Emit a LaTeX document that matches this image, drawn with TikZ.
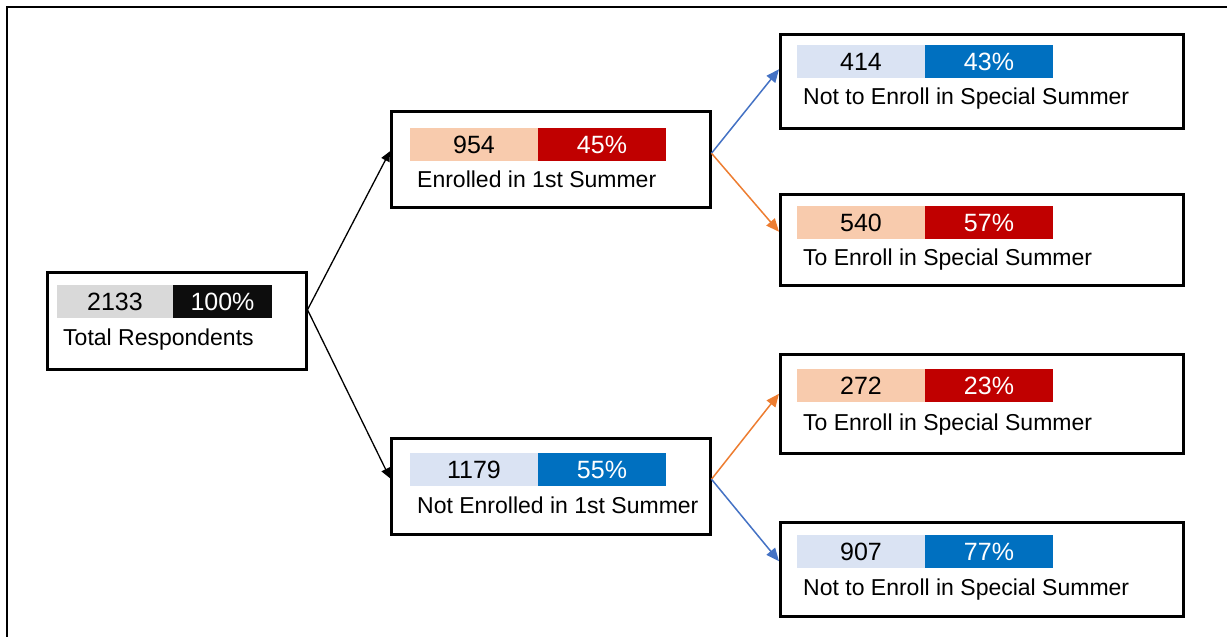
\documentclass[tikz,border=0pt]{standalone}
\usepackage{fontspec}
\setmainfont{Liberation Sans}
\usepackage{xcolor}
\usepackage{tikz}
\usetikzlibrary{positioning,arrows.meta}

\definecolor{cellgray}{HTML}{D9D9D9}
\definecolor{cellblack}{HTML}{0D0D0D}
\definecolor{cellpeach}{HTML}{F8CBAD}
\definecolor{cellred}{HTML}{C00000}
\definecolor{cellpale}{HTML}{DAE3F3}
\definecolor{cellblue}{HTML}{0070C0}
\definecolor{linkblue}{HTML}{4472C4}
\definecolor{linkorange}{HTML}{ED7D31}

\begin{document}
\begin{tikzpicture}[x=1pt, y=-1pt,
  box/.style={draw, rectangle, line width=2.5pt, anchor=north west, inner sep=0pt, minimum width=403pt, minimum height=94pt},
  cell/.style={rectangle, inner sep=0pt, outer sep=0pt, minimum width=128pt, minimum height=33pt, font=\fontsize{25}{30}\selectfont},
  numcell/.style={cell, fill=#1, text=black},
  pctcell/.style={cell, fill=#1, text=white},
  caption/.style={inner sep=0pt, font=\fontsize{23}{28}\selectfont},
  link/.style={-{Triangle[length=10pt,width=9pt]}, line width=1.3pt},
  blink/.style={-{Triangle[length=13pt,width=11pt]}, line width=1.5pt, linkblue},
  olink/.style={-{Triangle[length=13pt,width=11pt]}, line width=1.5pt, linkorange}]

\useasboundingbox (0,0) rectangle (1227,637);
\draw[line width=2pt] (1227,7) -- (7,7) -- (7,637);

% root
\node [box, minimum width=259pt, minimum height=97pt] (tot) at (46,271) {};
\node [numcell=cellgray, minimum width=116pt, below right=14pt and 11pt of tot.north west] (tot-n) {2133};
\node [pctcell=cellblack, minimum width=99pt, right=0pt of tot-n] (tot-p) {100\%};
\node [caption, below right=11pt and 6pt of tot-n.south west] (tot-t) {Total Respondents};

% first summer
\node [box, minimum width=319pt, minimum height=96pt] (enr) at (390,110) {};
\node [numcell=cellpeach, below right=18pt and 20pt of enr.north west] (enr-n) {954};
\node [pctcell=cellred, right=0pt of enr-n] (enr-p) {45\%};
\node [caption, below right=10pt and 7pt of enr-n.south west] (enr-t) {Enrolled in 1st Summer};

\node [box, minimum width=319pt, minimum height=96pt] (nen) at (390,437) {};
\node [numcell=cellpale, below right=16pt and 20pt of nen.north west] (nen-n) {1179};
\node [pctcell=cellblue, right=0pt of nen-n] (nen-p) {55\%};
\node [caption, below right=11pt and 7pt of nen-n.south west] (nen-t) {Not Enrolled in 1st Summer};

% special summer
\node [box] (sp1) at (779,33) {};
\node [numcell=cellpale, below right=12pt and 18pt of sp1.north west] (sp1-n) {414};
\node [pctcell=cellblue, right=0pt of sp1-n] (sp1-p) {43\%};
\node [caption, below right=10pt and 6pt of sp1-n.south west] (sp1-t) {Not to Enroll in Special Summer};

\node [box, minimum height=91pt] (sp2) at (779,193) {};
\node [numcell=cellpeach, below right=13pt and 18pt of sp2.north west] (sp2-n) {540};
\node [pctcell=cellred, right=0pt of sp2-n] (sp2-p) {57\%};
\node [caption, below right=10pt and 6pt of sp2-n.south west] (sp2-t) {To Enroll in Special Summer};

\node [box, minimum height=99pt] (sp3) at (779,353) {};
\node [numcell=cellpeach, below right=16pt and 18pt of sp3.north west] (sp3-n) {272};
\node [pctcell=cellred, right=0pt of sp3-n] (sp3-p) {23\%};
\node [caption, below right=12pt and 6pt of sp3-n.south west] (sp3-t) {To Enroll in Special Summer};

\node [box] (sp4) at (779,521) {};
\node [numcell=cellpale, below right=14pt and 18pt of sp4.north west] (sp4-n) {907};
\node [pctcell=cellblue, right=0pt of sp4-n] (sp4-p) {77\%};
\node [caption, below right=11pt and 6pt of sp4-n.south west] (sp4-t) {Not to Enroll in Special Summer};

% links
\draw [link] ([yshift=11pt]tot.east) -- ([yshift=8pt]enr.west);
\draw [link] ([yshift=11pt]tot.east) -- ([yshift=8pt]nen.west);
\draw [blink] ([yshift=6pt]enr.east) -- ([yshift=12pt]sp1.west);
\draw [olink] ([yshift=6pt]enr.east) -- ([yshift=8pt]sp2.west);
\draw [olink] ([yshift=7pt]nen.east) -- ([yshift=10pt]sp3.west);
\draw [blink] ([yshift=7pt]nen.east) -- ([yshift=8pt]sp4.west);

\end{tikzpicture}
\end{document}
